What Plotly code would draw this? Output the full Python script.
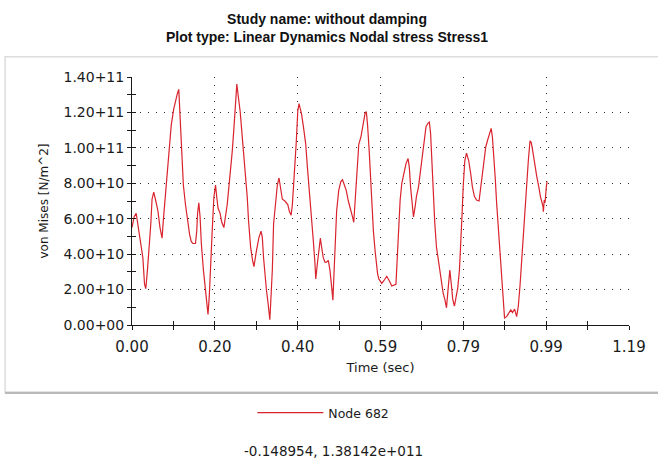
import plotly.graph_objects as go

# Time history of von Mises stress at node 682 (undamped linear dynamics run)
time_s = [
    0.000, 0.005, 0.010, 0.014, 0.021, 0.026, 0.030, 0.033, 0.037, 0.041,
    0.045, 0.048, 0.052, 0.057, 0.062, 0.067, 0.072, 0.075, 0.078, 0.082,
    0.086, 0.090, 0.094, 0.100, 0.104, 0.109, 0.112, 0.114, 0.117, 0.120,
    0.123, 0.128, 0.132, 0.138, 0.142, 0.146, 0.152, 0.155, 0.157, 0.160,
    0.163, 0.166, 0.171, 0.176, 0.179, 0.182, 0.185, 0.188, 0.192, 0.196,
    0.200, 0.203, 0.206, 0.211, 0.215, 0.220, 0.224, 0.228, 0.232, 0.236,
    0.240, 0.244, 0.247, 0.251, 0.254, 0.259, 0.263, 0.268, 0.273, 0.276,
    0.279, 0.284, 0.289, 0.292, 0.298, 0.304, 0.309, 0.312, 0.315, 0.318,
    0.322, 0.325, 0.328, 0.330, 0.332, 0.336, 0.339, 0.344, 0.348, 0.352,
    0.356, 0.360, 0.366, 0.373, 0.377, 0.381, 0.384, 0.387, 0.390, 0.393,
    0.397, 0.400, 0.403, 0.406, 0.411, 0.416, 0.420, 0.425, 0.430, 0.434,
    0.438, 0.440, 0.444, 0.448, 0.451, 0.454, 0.458, 0.462, 0.466, 0.470,
    0.474, 0.478, 0.481, 0.484, 0.487, 0.490, 0.495, 0.500, 0.504, 0.508,
    0.513, 0.518, 0.523, 0.528, 0.531, 0.534, 0.537, 0.540, 0.543, 0.548,
    0.551, 0.555, 0.558, 0.561, 0.564, 0.568, 0.571, 0.574, 0.578, 0.582,
    0.585, 0.588, 0.591, 0.598, 0.603, 0.610, 0.616, 0.622, 0.632, 0.635,
    0.638, 0.642, 0.646, 0.651, 0.656, 0.661, 0.664, 0.667, 0.670, 0.674,
    0.678, 0.681, 0.686, 0.691, 0.696, 0.700, 0.704, 0.709, 0.712, 0.715,
    0.718, 0.721, 0.725, 0.729, 0.733, 0.737, 0.741, 0.745, 0.749, 0.753,
    0.756, 0.759, 0.761, 0.765, 0.768, 0.772, 0.776, 0.780, 0.784, 0.787,
    0.790, 0.793, 0.797, 0.801, 0.806, 0.811, 0.815, 0.820, 0.825, 0.831,
    0.835, 0.839, 0.843, 0.847, 0.851, 0.857, 0.860, 0.863, 0.867, 0.870,
    0.873, 0.877, 0.881, 0.885, 0.889, 0.892, 0.897, 0.903, 0.907, 0.911,
    0.916, 0.921, 0.925, 0.929, 0.933, 0.937, 0.941, 0.945, 0.949, 0.953,
    0.956, 0.959, 0.964, 0.969, 0.974, 0.978, 0.984, 0.985, 0.987, 0.989,
    0.992, 0.994,
]

# von Mises stress in units of 1e10 N/m^2
stress_e10 = [
    5.5, 6.1, 6.3, 5.7, 4.8, 3.8, 2.3, 2.05, 3.1, 4.2,
    5.7, 7.1, 7.5, 7.0, 6.45, 5.5, 4.9, 5.9, 6.8, 8.1,
    9.25, 10.3, 11.3, 12.2, 12.7, 13.1, 13.3, 12.2, 10.6, 8.9,
    7.9, 6.8, 6.1, 5.1, 4.7, 4.6, 4.6, 5.3, 6.3, 6.9,
    6.1, 4.6, 3.1, 2.0, 1.2, 0.6, 1.6, 3.5, 5.3, 7.2,
    7.9, 7.2, 6.6, 6.3, 5.8, 5.5, 6.1, 6.8, 7.8, 8.7,
    9.8, 11.1, 12.4, 13.6, 13.0, 12.05, 10.9, 9.4, 8.3, 7.2,
    5.9, 4.4, 3.6, 3.3, 4.2, 4.95, 5.3, 4.95, 3.8, 2.9,
    1.95, 1.4, 0.65, 0.3, 1.2, 3.1, 5.7, 7.2, 7.9, 8.3,
    7.6, 7.1, 7.0, 6.8, 6.4, 6.2, 6.8, 7.8, 8.9, 10.2,
    12.1, 12.5, 12.2, 11.9, 11.1, 10.2, 8.9, 7.6, 6.1, 4.8,
    3.5, 2.6, 3.5, 4.2, 4.9, 4.4, 3.8, 3.55, 3.55, 3.65,
    3.1, 2.15, 1.4, 3.1, 4.95, 6.45, 7.6, 8.1, 8.2, 7.9,
    7.6, 7.0, 6.45, 6.1, 5.8, 6.8, 8.1, 9.4, 10.2, 10.6,
    11.0, 11.5, 11.95, 12.05, 11.3, 9.8, 8.3, 6.8, 5.3, 4.2,
    3.45, 2.9, 2.6, 2.35, 2.5, 2.75, 2.5, 2.2, 2.3, 3.7,
    5.55, 7.05, 8.0, 8.55, 9.1, 9.4, 8.9, 7.8, 6.9, 6.1,
    6.7, 7.25, 7.8, 8.75, 9.7, 10.6, 11.2, 11.4, 11.45, 10.8,
    9.3, 7.4, 5.75, 4.4, 3.7, 3.1, 2.55, 1.8, 1.45, 0.97,
    1.8, 2.95, 3.1, 2.2, 1.45, 1.07, 1.6, 2.1, 3.1, 4.4,
    6.1, 7.8, 9.3, 9.7, 9.3, 8.55, 7.8, 7.25, 7.05, 7.0,
    7.8, 8.75, 9.5, 10.05, 10.4, 10.8, 11.1, 10.6, 9.5, 8.2,
    6.9, 5.55, 4.05, 2.75, 1.45, 0.4, 0.47, 0.7, 0.85, 0.7,
    0.9, 0.47, 1.07, 2.2, 3.7, 5.2, 6.7, 8.2, 9.3, 10.4,
    10.3, 9.9, 9.1, 8.4, 7.8, 7.25, 6.7, 6.4, 7.05, 6.9,
    7.8, 8.1,
]

stress = [v * 1e10 for v in stress_e10]

# Axis ticks
x_max = 1.19
x_tick_labels = ["0.00", "0.20", "0.40", "0.59", "0.79", "0.99", "1.19"]
y_tick_values = [0, 2e10, 4e10, 6e10, 8e10, 1e11, 1.2e11, 1.4e11]
y_tick_labels = ["0.00+00", "2.00+10", "4.00+10", "6.00+10", "8.00+10",
                 "1.00+11", "1.20+11", "1.40+11"]

series_name = "Node 682"
cursor_readout = "-0.148954, 1.38142e+011"

n_x = len(x_tick_labels) - 1
x_tick_values = [x_max * i / n_x for i in range(n_x + 1)]
x_minor_values = [x_max * (i + 0.5) / n_x for i in range(n_x)]
y_minor_values = [v + 1e10 for v in y_tick_values[:-1]]

FONT = "DejaVu Sans"
TITLE_FONT = "Liberation Sans"
INK = "#1a1a1a"
GRID = "#2a2a2a"

fig = go.Figure()
fig.add_trace(go.Scatter(
    x=time_s, y=stress, mode="lines", name=series_name,
    line=dict(color="#d9232d", width=1.2),
))
# empty trace that carries the inner half of the tick marks
fig.add_trace(go.Scatter(x=[], y=[], xaxis="x2", yaxis="y2",
                         showlegend=False, hoverinfo="skip"))

common_x = dict(range=[0, x_max], tickvals=x_tick_values, zeroline=False)
common_y = dict(range=[0, 1.4e11], tickvals=y_tick_values, zeroline=False)

fig.update_layout(
    width=658, height=460,
    margin=dict(l=132, r=29, t=77, b=135),
    paper_bgcolor="white", plot_bgcolor="white",
    font=dict(family=FONT, color=INK),
    title=dict(
        text="<b>Study name: without damping<br>"
             "Plot type: Linear Dynamics Nodal stress Stress1</b>",
        x=0.497, xanchor="center", y=1 - 24 / 460, yanchor="middle",
        font=dict(size=14, family=TITLE_FONT, color="#111"),
    ),
    xaxis=dict(
        **common_x, ticktext=x_tick_labels,
        showline=True, linecolor=INK, linewidth=1,
        ticks="outside", ticklen=4, tickcolor=INK,
        tickfont=dict(size=15), ticklabelstandoff=4,
        showgrid=True, gridcolor=GRID, gridwidth=1.2, griddash="1px,7px",
        minor=dict(tickvals=x_minor_values, ticks="outside", ticklen=4,
                   tickcolor=INK, showgrid=False),
        title=dict(text="Time (sec)", font=dict(size=13), standoff=7),
    ),
    yaxis=dict(
        **common_y, ticktext=y_tick_labels,
        showline=True, linecolor=INK, linewidth=1,
        ticks="outside", ticklen=4, tickcolor=INK,
        tickfont=dict(size=14),
        showgrid=True, gridcolor=GRID, gridwidth=1.2, griddash="1px,7px",
        minor=dict(tickvals=y_minor_values, ticks="outside", ticklen=4,
                   tickcolor=INK, showgrid=False),
        title=dict(text="von Mises [N/m^2]", font=dict(size=12), standoff=12),
    ),
    xaxis2=dict(
        **common_x, overlaying="x", anchor="y2", side="bottom",
        ticks="inside", ticklen=4, tickcolor=INK, showticklabels=False,
        showgrid=False, showline=False,
        minor=dict(tickvals=x_minor_values, ticks="inside", ticklen=4,
                   tickcolor=INK, showgrid=False),
    ),
    yaxis2=dict(
        **common_y, overlaying="y", anchor="x2", side="left",
        ticks="inside", ticklen=4, tickcolor=INK, showticklabels=False,
        showgrid=False, showline=False,
        minor=dict(tickvals=y_minor_values, ticks="inside", ticklen=4,
                   tickcolor=INK, showgrid=False),
    ),
    showlegend=True,
    legend=dict(
        orientation="h", x=0.385, xanchor="center", y=-0.355, yanchor="middle",
        font=dict(size=12.5), itemwidth=66, bgcolor="rgba(0,0,0,0)",
    ),
)

# light panel frame around the chart with a soft shadow along the bottom
fig.add_shape(type="rect", xref="paper", yref="paper",
              x0=-0.2554, x1=1.07, y0=-0.2705, y1=1.082,
              line=dict(color="#dcdcdc", width=1.5), layer="below")
fig.add_shape(type="line", xref="paper", yref="paper",
              x0=-0.2554, x1=1.07, y0=-0.2745, y1=-0.2745,
              line=dict(color="#b8b8b8", width=2), layer="below")

fig.add_annotation(text=cursor_readout, xref="paper", yref="paper",
                   x=0.405, y=-0.5087, xanchor="center", yanchor="middle",
                   showarrow=False, font=dict(size=13.5, color=INK))

fig.write_html("out.html")
